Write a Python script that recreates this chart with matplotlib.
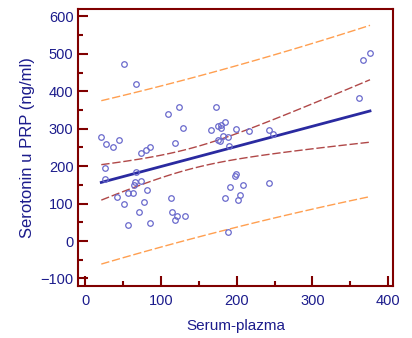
import numpy as np
import matplotlib
matplotlib.use("Agg")
import matplotlib.pyplot as plt
from matplotlib.ticker import MultipleLocator

# serum-plazma vs serotonin in PRP
serum = [21, 27, 36, 45, 51, 67, 25.5, 25.5, 67, 65, 73, 64, 82, 56, 63, 42,
         51.5, 78, 71, 56, 85, 73, 80, 86, 109, 124, 129, 119, 113.6, 115,
         121.6, 119, 131, 172, 166, 175, 179, 178.5, 184, 175.5, 178, 182,
         188, 190, 199, 216, 242, 248, 199, 198, 208, 191, 242, 184, 204,
         202, 189, 361, 367, 376]
prp = [278, 259, 250, 271, 472, 419, 195, 167, 184, 158, 160, 150, 137, 129,
       128, 118, 99, 105, 77, 42, 48, 235, 242, 250, 340, 357, 301, 263, 115,
       77, 66, 55, 67, 357, 296, 307, 302, 311, 317, 269, 266, 280, 278, 254,
       299, 293, 296, 287, 179, 173, 150, 144, 154, 116, 122, 110, 23, 383,
       483, 501]

x = np.array(serum, dtype=float)
y = np.array(prp, dtype=float)
n = len(x)
b, a = np.polyfit(x, y, 1)
resid = y - (a + b * x)
s = np.sqrt(np.sum(resid ** 2) / (n - 2))
sxx = np.sum((x - x.mean()) ** 2)
t = 2.0017  # t(0.975, 58)

xs = np.linspace(x.min(), x.max(), 60)
fit = a + b * xs
ci = t * s * np.sqrt(1.0 / n + (xs - x.mean()) ** 2 / sxx)
pi = t * s * np.sqrt(1 + 1.0 / n + (xs - x.mean()) ** 2 / sxx)

navy = "#1c1c8c"
spine = "#800000"
plt.rcParams["font.family"] = ["Liberation Sans", "DejaVu Sans"]

fig = plt.figure(figsize=(4.12, 3.38), dpi=100)
ax = fig.add_axes([0.19, 0.154, 0.765, 0.819])

ax.plot(xs, fit + pi, color="#ff9f50", lw=1, dashes=(6, 2))
ax.plot(xs, fit - pi, color="#ff9f50", lw=1, dashes=(6, 2))
ax.plot(xs, fit + ci, color="#b04848", lw=1, dashes=(6, 2))
ax.plot(xs, fit - ci, color="#b04848", lw=1, dashes=(6, 2))
ax.plot(xs, fit, color="#2a2aa0", lw=2)
ax.plot(x, y, "o", ms=4, mfc="none", mec="#6a6acc", mew=0.9)

ax.set_xlim(-9.4, 407)
ax.set_ylim(-120, 619.5)
ax.xaxis.set_major_locator(MultipleLocator(100))
ax.xaxis.set_minor_locator(MultipleLocator(50))
ax.yaxis.set_major_locator(MultipleLocator(100))
ax.yaxis.set_minor_locator(MultipleLocator(50))
ax.tick_params(which="both", direction="in", color=spine, width=1.5,
               labelcolor=navy, labelsize=10.5)
ax.tick_params(which="major", length=7)
ax.tick_params(which="minor", length=3.5)
ax.tick_params(axis="x", which="major", pad=5.5)
for sp in ax.spines.values():
    sp.set_color(spine)
    sp.set_linewidth(1.5)

ax.set_xlabel("Serum-plazma", color=navy, fontsize=11, labelpad=8.5)
ax.set_ylabel("Serotonin u PRP (ng/ml)", color=navy, fontsize=12)

fig.savefig("out.png", dpi=100)
